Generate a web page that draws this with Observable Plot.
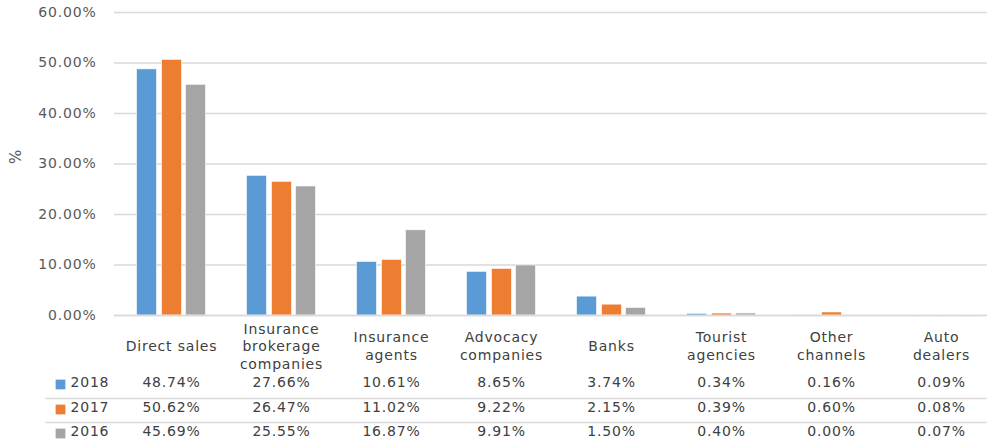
<!DOCTYPE html>
<html><head><meta charset="utf-8">
<script src="https://cdn.jsdelivr.net/npm/d3@7"></script>
<script src="https://cdn.jsdelivr.net/npm/@observablehq/plot@0.6"></script>
<style>body{margin:0;background:#fff;overflow:hidden}</style>
</head><body><div id="chart"></div>
<script>
const categories = ["Direct sales","Insurance\nbrokerage\ncompanies","Insurance\nagents","Advocacy\ncompanies","Banks","Tourist\nagencies","Other\nchannels","Auto\ndealers"];
const years = ["2018","2017","2016"];
const values2018 = [48.74,27.66,10.61,8.65,3.74,0.34,0.16,0.09];
const values2017 = [50.62,26.47,11.02,9.22,2.15,0.39,0.60,0.08];
const values2016 = [45.69,25.55,16.87,9.91,1.50,0.40,0.00,0.07];
const yTicks = [0,10,20,30,40,50,60];

const colors = ["#5b9bd5","#ed7d31","#a5a5a5"];
const series = [values2018, values2017, values2016];
const rows = series.map((vals, i) => categories.map((c, j) => ({category: c, year: years[i], value: vals[j]})));
const barOffsets = [-24.5, 0.5, 24.5];
const rowDy = [69, 94, 118];

const marks = [
  Plot.gridY(yTicks, {stroke: "#d9d9d9", strokeOpacity: 1, strokeWidth: 1.3}),
  Plot.axisY(yTicks, {tickSize: 0, tickPadding: 18, tickFormat: d => d.toFixed(2) + "%", fill: "#595959", fontSize: 14, label: null}),
  Plot.text(["%"], {frameAnchor: "left", dx: -98, rotate: -90, fill: "#595959", fontSize: 15}),
  Plot.text(categories, {x: d => d, text: d => d, frameAnchor: "bottom", dy: 30, lineAnchor: "middle", lineHeight: 1.25, fill: "#404040", fontSize: 14}),
  Plot.ruleY([0], {dy: 83, insetLeft: -69, stroke: "#d9d9d9", strokeWidth: 1.3}),
  Plot.ruleY([0], {dy: 107, insetLeft: -69, stroke: "#d9d9d9", strokeWidth: 1.3})
];
rows.forEach((data, i) => {
  marks.push(Plot.barY(data, {x: "category", y: "value", fill: colors[i], dx: barOffsets[i], insetLeft: 45, insetRight: 45, stroke: "white", strokeWidth: 0.6}));
  marks.push(Plot.text(data, {x: "category", text: d => d.value.toFixed(2) + "%", frameAnchor: "bottom", dy: rowDy[i] + 2.5, fill: "#404040", fontSize: 14}));
  marks.push(Plot.dot([years[i]], {frameAnchor: "bottom-left", dx: -54, dy: rowDy[i], symbol: "square", r: 5.5, fill: colors[i], stroke: null}));
  marks.push(Plot.text([years[i]], {text: d => d, frameAnchor: "bottom-left", dx: -44, dy: rowDy[i] + 2.5, textAnchor: "start", fill: "#404040", fontSize: 14}));
});
marks.push(Plot.ruleY([0], {stroke: "#d9d9d9", strokeWidth: 1.3}));

const chart = Plot.plot({
  width: 987,
  height: 445,
  marginTop: 12,
  marginBottom: 130,
  marginLeft: 114,
  marginRight: 0,
  style: {fontFamily: "DejaVu Sans", fontSize: "14px", letterSpacing: "0.8px", background: "white", overflow: "hidden"},
  x: {domain: categories, range: [114, 997], padding: 0, axis: null},
  y: {domain: [0, 60], axis: null},
  marks
});
document.getElementById("chart").appendChild(chart);
</script>
</body></html>
